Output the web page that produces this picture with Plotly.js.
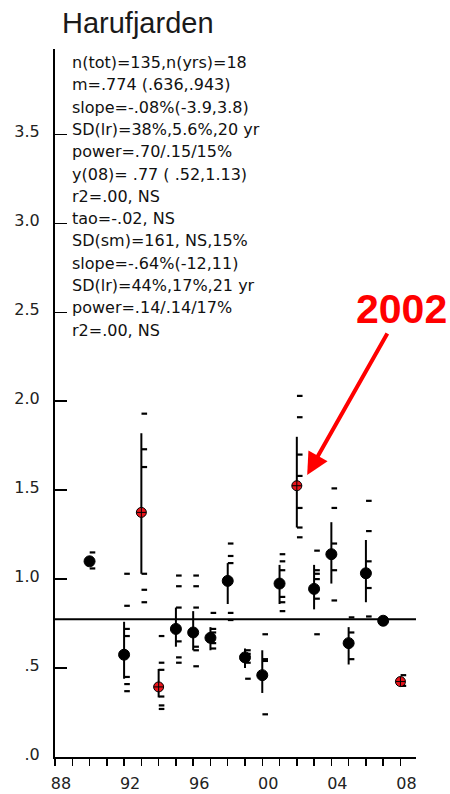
<!DOCTYPE html>
<html>
<head>
<meta charset="utf-8">
<script src="https://cdn.plot.ly/plotly-3.0.1.min.js"></script>
<style>html,body{margin:0;padding:0;background:#fff;}#chart{width:450px;height:794px;}</style>
</head>
<body>
<div id="chart"></div>
<script>
// ---- data ----
const years   = [1990, 1992, 1993, 1994, 1995, 1996, 1997, 1998, 1999, 2000, 2001, 2002, 2003, 2004, 2005, 2006, 2007, 2008];
const means   = [1.10, 0.575, 1.375, 0.394, 0.72, 0.70, 0.67, 0.99, 0.56, 0.46, 0.975, 1.525, 0.945, 1.14, 0.64, 1.033, 0.766, 0.424];
const ciHigh  = [1.10, 0.76, 1.82, 0.495, 0.84, 0.82, 0.73, 1.09, 0.61, 0.60, 1.08, 1.80, 1.08, 1.32, 0.73, 1.22, 0.766, 0.45];
const ciLow   = [1.10, 0.44, 1.03, 0.335, 0.62, 0.60, 0.60, 0.86, 0.50, 0.36, 0.86, 1.29, 0.83, 0.975, 0.52, 0.87, 0.766, 0.41];
const flaggedYears = [1993, 1994, 2002, 2008];
const overallMean = 0.774;

const sampleYear  = [1990,1990,
  1992,1992,1992,1992,1992,1992,1992,
  1993,1993,1993,1993,1993,1993,
  1994,1994,1994,1994,1994,1994,
  1995,1995,1995,1995,1995,1995,
  1996,1996,1996,1996,1996,1996,
  1997,1997,1997,1997,1997,
  1998,1998,1998,1998,1998,
  1999,1999,1999,1999,
  2000,2000,2000,2000,
  2001,2001,2001,2001,2001,2001,
  2002,2002,2002,2002,2002,2002,2002,
  2003,2003,2003,2003,2003,2003,
  2004,2004,2004,2004,2004,
  2005,2005,2005,
  2006,2006,2006,2006,2006,
  2008,2008];
const sampleValue = [1.15,1.06,
  1.03,0.85,0.72,0.68,0.45,0.41,0.37,
  1.93,1.73,1.63,1.03,0.94,0.87,
  0.68,0.53,0.49,0.34,0.29,0.27,
  1.02,0.96,0.84,0.65,0.56,0.53,
  1.02,0.96,0.84,0.62,0.60,0.51,
  0.81,0.72,0.70,0.64,0.61,
  1.20,1.13,1.09,0.81,0.77,
  0.60,0.58,0.53,0.44,
  0.69,0.55,0.54,0.24,
  1.14,1.10,1.05,0.90,0.87,0.82,
  2.03,1.91,1.70,1.58,1.40,1.29,1.235,
  1.16,1.05,1.03,1.00,0.89,0.69,
  1.51,1.40,1.20,1.05,0.88,
  0.785,0.70,0.55,
  1.44,1.27,1.10,0.95,0.79,
  0.46,0.40];

const statLines = [
  "n(tot)=135,n(yrs)=18",
  "m=.774 (.636,.943)",
  "slope=-.08%(-3.9,3.8)",
  "SD(lr)=38%,5.6%,20 yr",
  "power=.70/.15/15%",
  "y(08)= .77 ( .52,1.13)",
  "r2=.00, NS",
  "tao=-.02, NS",
  "SD(sm)=161, NS,15%",
  "slope=-.64%(-12,11)",
  "SD(lr)=44%,17%,21 yr",
  "power=.14/.14/17%",
  "r2=.00, NS"
];

const yTickVals = [0, 0.5, 1.0, 1.5, 2.0, 2.5, 3.0, 3.5];
const yTickText = [".0", ".5", "1.0", "1.5", "2.0", "2.5", "3.0", "3.5"];
const xTickVals = [1988, 1992, 1996, 2000, 2004, 2008];
const xTickText = ["88", "92", "96", "00", "04", "08"];

// ---- layout geometry ----
const W = 450, H = 794;
const M = {l: 55, r: 34, t: 49, b: 37};
const plotH = H - M.t - M.b;
const plotW = W - M.l - M.r;
const pyToPaper = py => (H - M.b - py) / plotH;
const pxToPaper = px => (px - M.l) / plotW;
const font = "DejaVu Sans, Liberation Sans, Arial, sans-serif";

const isFlag = years.map(y => flaggedYears.includes(y));

const samples = {
  type: 'scatter', mode: 'markers',
  x: sampleYear.map(y => y + 0.17), y: sampleValue,
  marker: {symbol: 'line-ew', size: 4, opacity: 1, color: '#000', line: {color: '#000', width: 2.2}},
  hoverinfo: 'skip', showlegend: false
};

const meanTrace = {
  type: 'scatter', mode: 'markers',
  x: years, y: means,
  error_y: {
    type: 'data', symmetric: false,
    array: ciHigh.map((h, i) => h - means[i]),
    arrayminus: means.map((m, i) => m - ciLow[i]),
    color: '#000', thickness: 2, width: 0
  },
  marker: {
    symbol: isFlag.map(f => f ? 'circle-cross' : 'circle'),
    size: isFlag.map(f => f ? 10 : 11),
    color: isFlag.map(f => f ? '#e8141b' : '#000'),
    opacity: 1,
    line: {color: '#000', width: 1}
  },
  showlegend: false
};

const annotations = statLines.map((t, i) => ({
  xref: 'paper', yref: 'paper',
  x: pxToPaper(70), y: pyToPaper(62.7 + i * 22.28),
  xanchor: 'left', yanchor: 'middle',
  text: t, showarrow: false,
  font: {family: font, size: 16, color: '#111'}
}));

annotations.push({
  xref: 'x', yref: 'y', x: 2002.6, y: 1.585,
  ax: 94, ay: -166, axref: 'pixel', ayref: 'pixel',
  text: '<b>2002</b>', showarrow: true,
  arrowhead: 2, arrowsize: 1.1, arrowwidth: 4, arrowcolor: '#ff0000',
  standoff: 0, startstandoff: 0,
  font: {family: 'Liberation Sans, Arial, sans-serif', size: 41, color: '#ff0000'}
});

const layout = {
  width: W, height: H,
  margin: M,
  paper_bgcolor: '#fff', plot_bgcolor: '#fff',
  title: {
    text: 'Harufjarden',
    xref: 'container', yref: 'container',
    x: 62 / W, xanchor: 'left',
    y: 1 - 23 / H, yanchor: 'middle',
    font: {family: 'Liberation Sans, Arial, sans-serif', size: 29, color: '#1a1a1a'}
  },
  xaxis: {
    range: [1988, 2008.9], showgrid: false, zeroline: false,
    showline: true, linecolor: '#000', linewidth: 2,
    tickmode: 'array', tickvals: xTickVals, ticktext: xTickText,
    ticks: 'outside', ticklen: 7, tickwidth: 1.5, tickcolor: '#000',
    ticklabelshift: 6, ticklabelstandoff: 4,
    minor: {dtick: 1, tick0: 1988, ticks: 'outside', ticklen: 7, tickwidth: 1.5, tickcolor: '#000', showgrid: false},
    tickfont: {family: font, size: 16, color: '#222'}
  },
  yaxis: {
    range: [0, 3.98], showgrid: false, zeroline: false,
    showline: true, linecolor: '#000', linewidth: 2,
    tickmode: 'array', tickvals: yTickVals, ticktext: yTickText,
    ticks: 'inside', ticklen: 12, tickwidth: 1.5, tickcolor: '#000',
    ticklabelstandoff: 10, ticklabelshift: -3,
    tickfont: {family: font, size: 16, color: '#222'}
  },
  shapes: [{
    type: 'line', xref: 'paper', yref: 'y',
    x0: 0, x1: 1, y0: overallMean, y1: overallMean,
    line: {color: '#000', width: 2}
  }],
  annotations: annotations
};

Plotly.newPlot('chart', [samples, meanTrace], layout, {displayModeBar: false, staticPlot: true});
</script>
</body>
</html>
